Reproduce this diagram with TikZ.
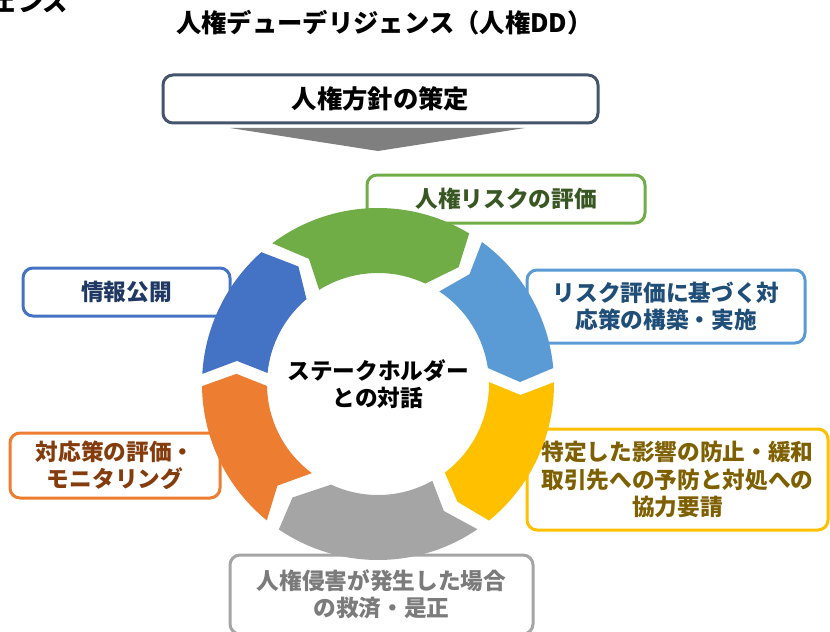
\documentclass[tikz,border=0pt]{standalone}
\usepackage{fontspec}
\setmainfont{Noto Sans CJK JP}
\definecolor{policyc}{HTML}{44546A}
\definecolor{arrowc}{HTML}{7F7F7F}
\definecolor{greenc}{HTML}{70AD47}
\definecolor{greent}{HTML}{385723}
\definecolor{lbluec}{HTML}{5B9BD5}
\definecolor{lbluet}{HTML}{1F4E79}
\definecolor{yellowc}{HTML}{FFC000}
\definecolor{yellowt}{HTML}{7F6000}
\definecolor{grayc}{HTML}{A5A5A5}
\definecolor{grayt}{HTML}{7B7B7B}
\definecolor{orangec}{HTML}{ED7D31}
\definecolor{oranget}{HTML}{843C0C}
\definecolor{dbluec}{HTML}{4472C4}
\definecolor{dbluet}{HTML}{203864}
\newcommand\ringseg[7]{%
  \fill[#1] (#2:176) arc[start angle=#2, end angle=#5, radius=132pt]
    -- (#6:142) -- (#7:111) arc[start angle=#7, end angle=#4, radius=83.25pt]
    -- (#3:143) -- cycle;}
\begin{document}
\begin{tikzpicture}[x=0.75pt,y=0.75pt,
  bigfont/.style={font=\bfseries\fontsize{19pt}{22pt}\selectfont},
  boxfont/.style={font=\bfseries\fontsize{17pt}{20.5pt}\selectfont},
  box/.style={draw, line width=2.25pt, rounded corners=7.5pt, fill=white,
    align=center, inner sep=0pt, boxfont},
]
\clip (0,0) rectangle (830,-631);
\node[bigfont, anchor=east] (cut) at (73,-2) {ェンス};
\node[bigfont] (title) at (384.5,-22.5) {人権デューデリジェンス（人権DD）};
\node[box, draw=policyc, bigfont, minimum width=326.25pt, minimum height=36pt] (policy) at (380.5,-99) {人権方針の策定};
\fill[arrowc] (230,-128) -- (525,-128) -- (378,-151) -- cycle;
\node[box, draw=greenc, text=greent, minimum width=208.5pt, minimum height=36pt] (risk) at (506,-199) {人権リスクの評価};
\node[box, draw=lbluec, text=lbluet, minimum width=208.5pt, minimum height=54.75pt] (plan) at (666,-306.5) {リスク評価に基づく対\\応策の構築・実施};
\node[box, draw=yellowc, text=yellowt, minimum width=225.75pt, minimum height=75.75pt] (prevent) at (677.5,-479.5) {特定した影響の防止・緩和\\取引先への予防と対処への\\協力要請};
\node[box, draw=grayc, text=grayt, minimum width=227.25pt, minimum height=59.25pt] (remedy) at (381.5,-594.5) {人権侵害が発生した場合\\の救済・是正};
\node[box, draw=orangec, text=oranget, minimum width=157.5pt, minimum height=48.75pt] (monitor) at (115,-465.5) {対応策の評価・\\モニタリング};
\node[box, draw=dbluec, text=dbluet, minimum width=155.25pt, minimum height=36pt] (info) at (126.5,-292) {情報公開};
\begin{scope}[shift={(378,-384)}]
\ringseg{greenc}{126.9}{118.9}{122}{58.8}{55.4}{64.8}
\ringseg{lbluec}{53.8}{50.2}{56.5}{5.2}{0.8}{8.3}
\ringseg{yellowc}{0.6}{-4.4}{1}{-50.9}{-56}{-53}
\ringseg{grayc}{-55.6}{-62.6}{-60.7}{-124.3}{-127}{-115}
\ringseg{orangec}{-129.2}{-134.7}{-126.6}{-179.3}{-184.1}{-179}
\ringseg{dbluec}{176.7}{170.7}{174.3}{131.5}{124.1}{130.1}
\end{scope}
\node[boxfont, align=center] (dialog) at (378,-384) {ステークホルダー\\との対話};
\end{tikzpicture}
\end{document}
